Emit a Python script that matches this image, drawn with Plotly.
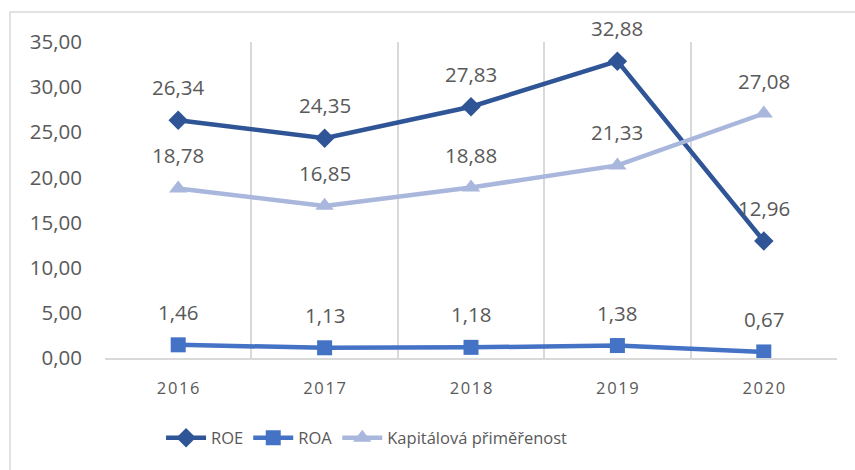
import plotly.graph_objects as go

years = ["2016", "2017", "2018", "2019", "2020"]
roe = [26.34, 24.35, 27.83, 32.88, 12.96]
roa = [1.46, 1.13, 1.18, 1.38, 0.67]
kap = [18.78, 16.85, 18.88, 21.33, 27.08]
y_ticks = [0, 5, 10, 15, 20, 25, 30, 35]

series = [
    ("ROE", roe, "#2F5597", "diamond", 15),
    ("ROA", roa, "#4472C4", "square", 15),
    ("Kapitálová přiměřenost", kap, "#A9B7DD", "triangle-up", 16),
]

FONT = "Open Sans"
GRAY = "#595959"
xs = list(range(len(years)))

fig = go.Figure()
annotations = []
for name, vals, color, sym, size in series:
    fig.add_trace(go.Scatter(
        x=xs, y=vals, name=name, mode="lines+markers",
        line=dict(color=color, width=4.5),
        marker=dict(symbol=sym, size=size, color=color),
    ))
    for xi, v in zip(xs, vals):
        annotations.append(dict(
            x=xi, y=v, xref="x", yref="y", text=f"{v:.2f}".replace(".", ","),
            showarrow=False, yshift=33,
            font=dict(family=FONT, size=20.5, color=GRAY),
        ))

fig.update_layout(
    width=855, height=470,
    margin=dict(l=105, r=18, t=42, b=112),
    paper_bgcolor="white", plot_bgcolor="white",
    separators=", ",
    font=dict(family=FONT, color=GRAY),
    annotations=annotations,
    showlegend=True,
    legend=dict(orientation="h", x=0.358, xanchor="center", y=-0.253, yanchor="middle",
                font=dict(family=FONT, size=16.5, color=GRAY), itemwidth=40,
                traceorder="normal"),
    shapes=[dict(type="rect", xref="paper", yref="paper",
                 x0=-0.1298, x1=1.04, y0=-0.37, y1=1.0949,
                 line=dict(color="#D9D9D9", width=1.5), layer="below")],
)

fig.update_xaxes(
    range=[-0.5, 4.5],
    tickvals=xs,
    ticktext=["\u200a".join(y) for y in years],
    showgrid=False, zeroline=False,
    showline=True, linecolor="#D9D9D9", linewidth=1.5,
    ticks="", ticklabelstandoff=14,
    tickfont=dict(family=FONT, size=16.5, color=GRAY),
    minor=dict(tickvals=[i - 0.5 for i in range(len(years) + 1)],
               showgrid=True, gridcolor="#D9D9D9", gridwidth=1.5, ticks=""),
)
fig.update_yaxes(
    range=[0, 35],
    tickvals=y_ticks, tickformat=".2f",
    showgrid=False, zeroline=False, showline=False,
    ticks="", ticklabelstandoff=22,
    tickfont=dict(family=FONT, size=20.5, color=GRAY),
)

fig.write_html("out.html", config={"displayModeBar": False},
               post_script="document.body.style.margin='0';")
